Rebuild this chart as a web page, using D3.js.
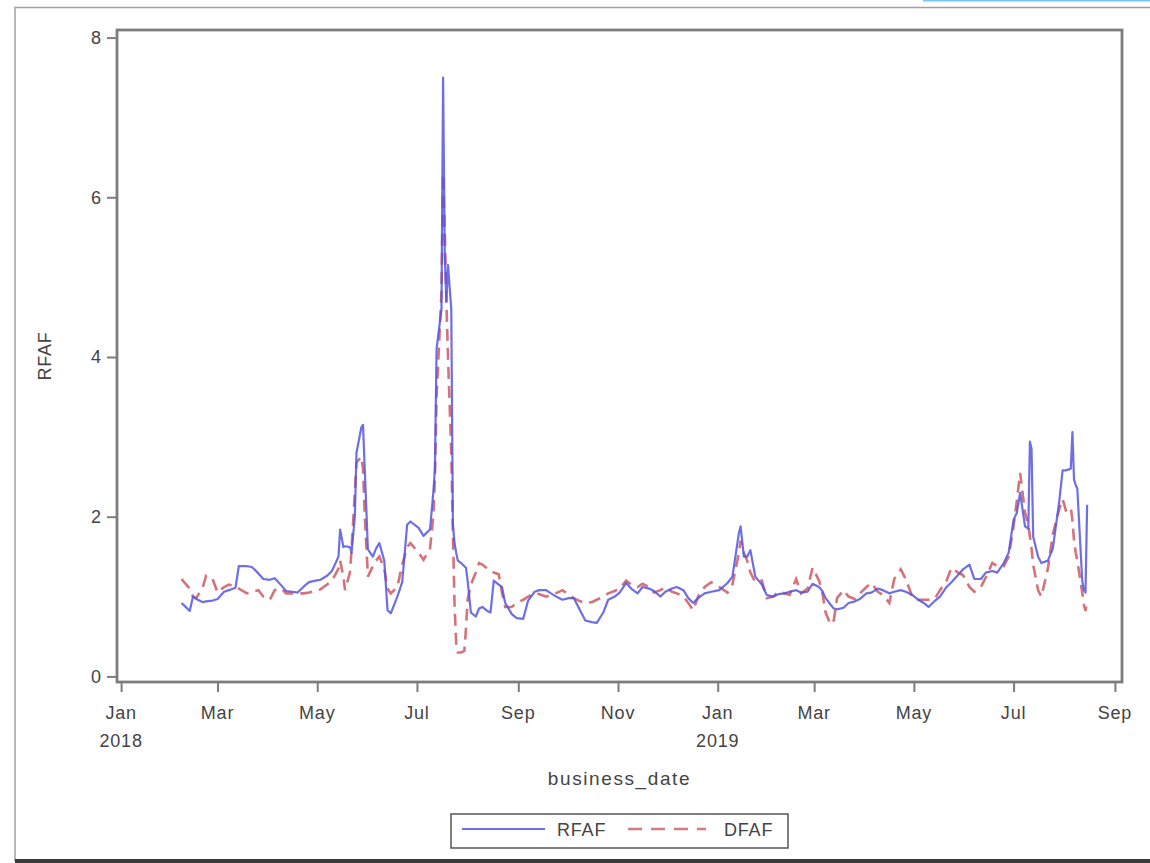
<!DOCTYPE html>
<html>
<head>
<meta charset="utf-8">
<script src="https://cdn.jsdelivr.net/npm/d3@7"></script>
<style>
  body { margin: 0; background: #fff; }
  svg text { font-family: "Liberation Sans", Arial, sans-serif; fill: #444; }
</style>
</head>
<body>
<div id="chart"></div>
<script>
// business dates and the two series
const dates = [
  "2018-02-07","2018-02-09","2018-02-12","2018-02-14","2018-02-16","2018-02-20","2018-02-22","2018-02-26",
  "2018-03-01","2018-03-05","2018-03-08","2018-03-12","2018-03-14","2018-03-19","2018-03-22","2018-03-26","2018-03-29",
  "2018-04-02","2018-04-05","2018-04-09","2018-04-12","2018-04-16","2018-04-19","2018-04-23","2018-04-26","2018-04-30",
  "2018-05-03","2018-05-07","2018-05-10","2018-05-14","2018-05-15","2018-05-17","2018-05-18","2018-05-21","2018-05-22",
  "2018-05-24","2018-05-25","2018-05-28","2018-05-29","2018-05-30",
  "2018-06-01","2018-06-04","2018-06-06","2018-06-08","2018-06-11","2018-06-13","2018-06-15","2018-06-19","2018-06-22",
  "2018-06-25","2018-06-27",
  "2018-07-02","2018-07-05","2018-07-09","2018-07-11","2018-07-12","2018-07-13","2018-07-16","2018-07-17","2018-07-18",
  "2018-07-19","2018-07-20","2018-07-22","2018-07-23","2018-07-24","2018-07-25","2018-07-26","2018-07-28","2018-07-30",
  "2018-07-31",
  "2018-08-01","2018-08-03","2018-08-06","2018-08-08","2018-08-10","2018-08-13","2018-08-15","2018-08-17","2018-08-20",
  "2018-08-22","2018-08-24","2018-08-28","2018-08-31",
  "2018-09-04","2018-09-07","2018-09-11","2018-09-14","2018-09-18","2018-09-21","2018-09-25","2018-09-28",
  "2018-10-02","2018-10-05","2018-10-09","2018-10-12","2018-10-16","2018-10-19","2018-10-23","2018-10-26","2018-10-30",
  "2018-11-02","2018-11-06","2018-11-09","2018-11-13","2018-11-16","2018-11-20","2018-11-23","2018-11-27","2018-11-30",
  "2018-12-04","2018-12-07","2018-12-11","2018-12-14","2018-12-17","2018-12-20","2018-12-24","2018-12-28",
  "2019-01-02","2019-01-07","2019-01-10","2019-01-14","2019-01-15","2019-01-17","2019-01-19","2019-01-21","2019-01-24",
  "2019-01-28","2019-01-31",
  "2019-02-04","2019-02-07","2019-02-11","2019-02-14","2019-02-18","2019-02-21","2019-02-25","2019-02-28",
  "2019-03-04","2019-03-06","2019-03-08","2019-03-11","2019-03-13","2019-03-15","2019-03-19","2019-03-22","2019-03-26",
  "2019-03-29",
  "2019-04-02","2019-04-05","2019-04-09","2019-04-12","2019-04-16","2019-04-19","2019-04-23","2019-04-26","2019-04-30",
  "2019-05-03","2019-05-07","2019-05-10","2019-05-14","2019-05-17","2019-05-21","2019-05-24","2019-05-28","2019-05-31",
  "2019-06-04","2019-06-07","2019-06-11","2019-06-14","2019-06-18","2019-06-21","2019-06-25","2019-06-28",
  "2019-07-01","2019-07-03","2019-07-05","2019-07-08","2019-07-10","2019-07-11","2019-07-12","2019-07-13","2019-07-16",
  "2019-07-18","2019-07-22","2019-07-25","2019-07-29","2019-07-31",
  "2019-08-02","2019-08-05","2019-08-06","2019-08-07","2019-08-08","2019-08-09","2019-08-12","2019-08-13","2019-08-14",
  "2019-08-15"
];

const rfaf = [
  0.92,0.88,0.82,1.00,0.97,0.93,0.94,0.95,
  0.97,1.06,1.08,1.11,1.38,1.38,1.37,1.29,1.22,
  1.21,1.23,1.14,1.07,1.06,1.05,1.13,1.18,1.20,
  1.21,1.26,1.32,1.50,1.84,1.62,1.63,1.62,1.55,
  2.00,2.80,3.12,3.15,2.63,
  1.59,1.50,1.60,1.67,1.45,0.83,0.79,1.00,1.18,
  1.90,1.94,
  1.86,1.76,1.84,2.30,2.60,4.10,4.60,7.50,5.30,
  4.70,5.15,4.60,1.90,1.67,1.55,1.45,1.42,1.38,
  1.36,
  1.20,0.80,0.75,0.85,0.87,0.82,0.80,1.20,1.15,
  1.12,0.92,0.78,0.73,
  0.72,0.95,1.06,1.08,1.08,1.04,0.99,0.96,
  0.98,0.98,0.82,0.70,0.68,0.67,0.80,0.96,1.00,
  1.05,1.17,1.10,1.04,1.12,1.10,1.07,1.00,1.06,
  1.10,1.12,1.08,0.98,0.92,0.98,1.04,1.06,
  1.08,1.17,1.25,1.80,1.88,1.50,1.50,1.58,1.25,
  1.15,1.02,
  1.00,1.03,1.04,1.06,1.08,1.05,1.06,1.16,
  1.12,1.07,0.98,0.90,0.85,0.84,0.86,0.92,0.94,
  0.97,
  1.04,1.05,1.10,1.08,1.04,1.06,1.08,1.06,1.02,
  0.97,0.92,0.87,0.95,1.00,1.12,1.18,1.27,1.34,
  1.40,1.22,1.22,1.30,1.32,1.30,1.42,1.55,
  1.96,2.05,2.30,1.88,1.85,2.94,2.85,1.75,1.50,
  1.42,1.45,1.60,2.20,2.58,
  2.58,2.60,3.06,2.46,2.40,2.35,1.20,1.08,1.05,
  2.15
];

const dfaf = [
  1.22,1.17,1.10,1.00,0.98,1.12,1.26,1.22,
  1.05,1.12,1.15,1.12,1.10,1.04,1.06,1.08,1.00,
  0.96,1.08,1.10,1.04,1.04,1.04,1.04,1.05,1.07,
  1.09,1.15,1.20,1.35,1.45,1.25,1.08,1.30,1.59,
  2.30,2.68,2.75,2.60,2.05,
  1.25,1.38,1.45,1.50,1.35,1.10,1.04,1.12,1.40,
  1.62,1.67,
  1.55,1.46,1.60,2.00,2.50,3.50,4.80,6.30,5.60,
  4.70,4.00,2.80,1.80,0.90,0.42,0.30,0.30,0.32,
  0.60,
  0.96,1.15,1.30,1.42,1.40,1.35,1.34,1.30,1.28,
  1.05,0.87,0.87,0.92,
  0.96,1.00,1.04,1.03,1.00,1.02,1.05,1.08,
  1.02,0.98,0.94,0.92,0.93,0.96,1.00,1.04,1.07,
  1.10,1.20,1.15,1.12,1.16,1.12,1.05,1.08,1.12,
  1.06,1.04,1.00,0.92,0.83,1.00,1.12,1.18,
  1.12,1.05,1.15,1.55,1.70,1.55,1.45,1.30,1.18,
  1.20,0.98,
  1.00,1.06,1.04,1.02,1.22,1.04,1.10,1.36,
  1.20,1.05,0.80,0.65,0.70,0.98,1.08,1.00,0.97,
  1.04,
  1.12,1.17,1.06,1.02,0.92,1.22,1.34,1.22,1.00,
  0.96,0.96,0.96,0.98,1.08,1.20,1.36,1.30,1.27,
  1.12,1.06,1.12,1.24,1.42,1.38,1.38,1.50,
  1.88,2.20,2.55,2.05,1.90,1.75,1.60,1.40,1.08,
  1.00,1.35,1.78,2.10,2.22,
  2.08,2.12,1.95,1.70,1.55,1.45,1.05,0.90,0.82,
  0.95
];

const seriesNames = ["RFAF", "DFAF"];
const yTicks = [0, 2, 4, 6, 8];
const xTickMonths = [
  "2018-01-01","2018-03-01","2018-05-01","2018-07-01","2018-09-01","2018-11-01",
  "2019-01-01","2019-03-01","2019-05-01","2019-07-01","2019-09-01"
];

const W = 1150, H = 863;
const frame = { left: 117, top: 30, right: 1122, bottom: 682 };
const parse = d3.timeParse("%Y-%m-%d");

const svg = d3.select("#chart").append("svg")
  .attr("width", W)
  .attr("height", H);

// screenshot border bits
svg.append("path")
  .attr("d", `M15,${H - 2} L15,7.5 L${W},7.5`)
  .attr("fill", "none")
  .attr("stroke", "#a0a0a0")
  .attr("stroke-width", 1.5);
svg.append("rect")
  .attr("x", 15).attr("y", 859).attr("width", W - 15).attr("height", 4)
  .attr("fill", "#3a3a3a");
svg.append("line")
  .attr("x1", 923).attr("x2", W).attr("y1", 0.5).attr("y2", 0.5)
  .attr("stroke", "#73c9ef").attr("stroke-width", 2);

// scales
const x = d3.scaleTime()
  .domain([new Date(2017, 11, 29, 12), new Date(2019, 8, 5, 8)])
  .range([frame.left, frame.right]);

const y = d3.scaleLinear()
  .domain([-0.07, 8.095])
  .range([frame.bottom, frame.top]);

const rows = dates.map((d, i) => ({ date: parse(d), r: rfaf[i], d: dfaf[i] }));

// lines
svg.append("clipPath").attr("id", "clip")
  .append("rect")
  .attr("x", frame.left).attr("y", frame.top)
  .attr("width", frame.right - frame.left).attr("height", frame.bottom - frame.top);

const lineR = d3.line().x((d) => x(d.date)).y((d) => y(d.r));
const lineD = d3.line().x((d) => x(d.date)).y((d) => y(d.d));

const plot = svg.append("g").attr("clip-path", "url(#clip)");

plot.append("path")
  .datum(rows)
  .attr("d", lineD)
  .attr("fill", "none")
  .attr("stroke", "#d0646c")
  .attr("stroke-width", 2.6)
  .attr("stroke-dasharray", "12,7")
  .attr("stroke-opacity", 0.9);

plot.append("path")
  .datum(rows)
  .attr("d", lineR)
  .attr("fill", "none")
  .attr("stroke", "#5555e2")
  .attr("stroke-width", 2.2)
  .attr("stroke-opacity", 0.85)
  .attr("stroke-linejoin", "round");

// frame
svg.append("rect")
  .attr("x", frame.left).attr("y", frame.top)
  .attr("width", frame.right - frame.left).attr("height", frame.bottom - frame.top)
  .attr("fill", "none")
  .attr("stroke", "#7d7d7d")
  .attr("stroke-width", 2.8);

// y axis
const yAxis = svg.append("g")
  .attr("transform", `translate(${frame.left},0)`)
  .call(d3.axisLeft(y).tickValues(yTicks).tickSize(10).tickPadding(6).tickFormat(d3.format("d")));
yAxis.select(".domain").remove();
yAxis.selectAll("line").attr("stroke", "#7d7d7d").attr("stroke-width", 2);
yAxis.selectAll("text")
  .style("font-size", "18px")
  .style("font-family", "Liberation Sans, Arial, sans-serif")
  .attr("fill", "#444");

// x axis
const fmtMonth = d3.timeFormat("%b");
const xAxis = svg.append("g")
  .attr("transform", `translate(0,${frame.bottom})`)
  .call(d3.axisBottom(x).tickValues(xTickMonths.map(parse)).tickSize(10).tickFormat(""));
xAxis.select(".domain").remove();
xAxis.selectAll("line").attr("stroke", "#7d7d7d").attr("stroke-width", 2);

const xLabels = svg.append("g");
xTickMonths.map(parse).forEach((d) => {
  xLabels.append("text")
    .attr("x", x(d))
    .attr("y", 719)
    .attr("text-anchor", "middle")
    .style("font-size", "18px")
    .style("letter-spacing", "0.8px")
    .text(fmtMonth(d));
  if (d.getMonth() === 0) {
    xLabels.append("text")
      .attr("x", x(d))
      .attr("y", 747)
      .attr("text-anchor", "middle")
      .style("font-size", "18px")
      .style("letter-spacing", "0.8px")
      .text(d.getFullYear());
  }
});

// axis titles
svg.append("text")
  .attr("x", (frame.left + frame.right) / 2)
  .attr("y", 785)
  .attr("text-anchor", "middle")
  .style("font-size", "19px")
  .style("letter-spacing", "1.6px")
  .text("business_date");

svg.append("text")
  .attr("transform", `translate(51,${(frame.top + frame.bottom) / 2}) rotate(-90)`)
  .attr("text-anchor", "middle")
  .style("font-size", "18px")
  .style("letter-spacing", "0.8px")
  .text("RFAF");

// legend
const legend = svg.append("g");
legend.append("rect")
  .attr("x", 451).attr("y", 814).attr("width", 337).attr("height", 34)
  .attr("fill", "#fff")
  .attr("stroke", "#555")
  .attr("stroke-width", 1.5);

const legendItems = [
  { name: seriesNames[0], x0: 462, x1: 545, tx: 557, color: "#5555e2", dash: null, w: 2.2 },
  { name: seriesNames[1], x0: 628, x1: 706, tx: 724, color: "#d0646c", dash: "14,9", w: 2.6 }
];
legendItems.forEach((it) => {
  legend.append("line")
    .attr("x1", it.x0).attr("x2", it.x1).attr("y1", 829).attr("y2", 829)
    .attr("stroke", it.color)
    .attr("stroke-width", it.w)
    .attr("stroke-opacity", 0.85)
    .attr("stroke-dasharray", it.dash);
  legend.append("text")
    .attr("x", it.tx).attr("y", 836)
    .style("font-size", "18px")
    .style("letter-spacing", "0.8px")
    .text(it.name);
});
</script>
</body>
</html>
